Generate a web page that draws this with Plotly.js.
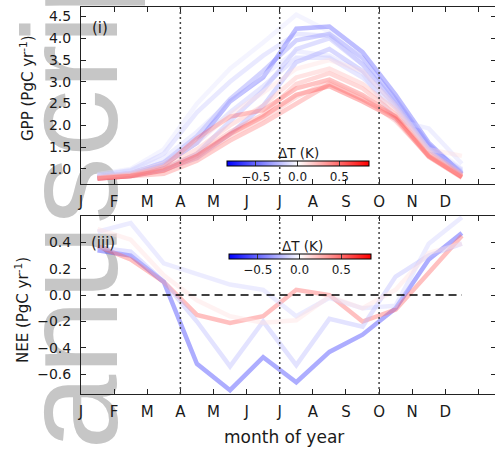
<!DOCTYPE html>
<html>
<head>
<meta charset="utf-8">
<script src="https://cdn.plot.ly/plotly-3.0.1.min.js"></script>
<style>html,body{margin:0;padding:0;overflow:hidden;background:#fff;}#chart{width:496px;height:450px;}</style>
</head>
<body>
<div id="chart"></div>
<script>
// ---- data ----
const monthLabels = ['J','F','M','A','M','J','J','A','S','O','N','D'];
const monthNumber = [1,2,3,4,5,6,7,8,9,10,11,12];
const seasonBounds = [3,6,9];

// GPP (PgC yr-1), one line per ensemble member, coloured by ΔT (K)
const gppDT = [-0.10,-0.20,-0.60,-0.40,-0.30,-0.15,-0.35,-0.22, 0.45,0.55,0.35,0.25,0.12,0.65,0.30];
const gpp01 = [0.88,1.00,1.45,2.50,3.30,3.90,4.54,4.15,3.50,2.55,1.55,1.00];
const gpp02 = [0.86,0.97,1.35,2.30,3.00,3.60,4.10,4.05,3.40,2.50,1.50,0.98];
const gpp03 = [0.80,0.88,1.10,1.60,2.55,3.10,4.22,4.27,3.68,2.70,1.60,0.88];
const gpp04 = [0.82,0.90,1.15,1.75,2.60,3.25,3.95,4.10,3.55,2.60,1.55,0.90];
const gpp05 = [0.80,0.86,1.00,1.35,2.10,2.80,3.75,4.00,3.40,2.55,1.50,0.92];
const gpp06 = [0.85,0.95,1.25,1.85,2.55,3.15,3.70,3.60,3.20,2.12,1.93,1.12];
const gpp07 = [0.78,0.84,0.98,1.25,1.80,2.45,3.45,3.75,3.25,2.45,1.45,0.88];
const gpp08 = [0.82,0.90,1.15,1.60,2.30,2.90,3.55,3.55,3.10,2.40,1.45,0.95];
const gpp09 = [0.78,0.83,0.89,1.19,1.65,2.05,2.50,2.95,2.60,2.20,1.30,0.82];
const gpp10 = [0.78,0.84,1.05,1.70,2.20,2.35,2.85,3.05,2.70,2.20,1.30,0.82];
const gpp11 = [0.80,0.86,1.00,1.35,1.85,2.25,2.95,3.20,2.85,2.25,1.35,0.85];
const gpp12 = [0.80,0.88,1.05,1.45,2.00,2.45,3.10,3.30,2.95,2.35,1.40,0.88];
const gpp13 = [0.82,0.90,1.12,1.60,2.25,2.75,3.30,3.50,3.25,2.45,1.45,1.30];
const gpp14 = [0.78,0.84,0.96,1.30,1.80,2.20,2.70,2.90,2.55,2.15,1.28,0.80];
const gpp15 = [0.79,0.85,0.98,1.25,1.75,2.15,2.65,3.00,2.65,2.10,1.30,0.84];
const gppSeries = [gpp01,gpp02,gpp03,gpp04,gpp05,gpp06,gpp07,gpp08,gpp09,gpp10,gpp11,gpp12,gpp13,gpp14,gpp15];

// NEE (PgC yr-1)
const neeDT = [-0.65, 0.50, -0.15, -0.22, 0.10];
const nee1 = [0.34,0.30,0.10,-0.52,-0.72,-0.47,-0.66,-0.43,-0.30,-0.10,0.27,0.47];
const nee2 = [0.37,0.27,0.10,-0.15,-0.21,-0.16,0.04,0.00,-0.20,-0.11,0.17,0.45];
const nee3 = [0.48,0.545,0.24,0.16,0.08,0.04,-0.16,-0.02,-0.10,-0.08,0.39,0.59];
const nee4 = [0.36,0.33,0.10,-0.20,-0.54,-0.20,-0.53,-0.18,-0.24,0.14,0.30,0.39];
const nee5 = [0.50,0.42,0.15,-0.04,-0.16,-0.21,-0.19,-0.01,-0.10,0.04,0.32,0.39];
const neeSeries = [nee1,nee2,nee3,nee4,nee5];

const dtMin = -0.85, dtMax = 0.85;
const cbTicks = [-0.5, 0.0, 0.5];

// ---- styling / helpers ----
const FONT = 'DejaVu Sans, sans-serif';
const TXT = '#1a1a1a';
const xMid = monthNumber.map(m => m - 0.5);
const bwr = [[0,'rgb(0,0,255)'],[0.5,'rgb(255,255,255)'],[1,'rgb(255,0,0)']];
function bwrColor(v){
  let t = (v - dtMin) / (dtMax - dtMin); t = Math.max(0, Math.min(1, t));
  let r,g,b;
  if (t < 0.5){ const s = t/0.5; r = Math.round(255*s); g = r; b = 255; }
  else { const s = (t-0.5)/0.5; r = 255; g = Math.round(255*(1-s)); b = g; }
  return `rgb(${r},${g},${b})`;
}
// pixel -> paper (plot area: x 81..496, y 7..394)
const L = 81, W = 415, T = 7, H = 387;
const xp = px => (px - L) / W;
const yp = py => (T + H - py) / H;

const traces = [];
gppSeries.forEach((s, i) => {
  traces.push({x: xMid, y: s, xaxis:'x', yaxis:'y', mode:'lines', type:'scatter',
    line:{color: bwrColor(gppDT[i]), width:4.5}, opacity:0.36, hoverinfo:'skip', showlegend:false});
});
neeSeries.forEach((s, i) => {
  traces.push({x: xMid, y: s, xaxis:'x2', yaxis:'y2', mode:'lines', type:'scatter',
    line:{color: bwrColor(neeDT[i]), width:4.5}, opacity:0.42, hoverinfo:'skip', showlegend:false});
});
// zero reference line in NEE panel
traces.push({x: xMid, y: xMid.map(() => 0), xaxis:'x2', yaxis:'y2', mode:'lines', type:'scatter',
  line:{color:'#000', width:1.5, dash:'8px,5px'}, hoverinfo:'skip', showlegend:false});

function cbTrace(xa, ya, vals, cx, cy){
  return {x: vals.map(() => null), y: vals.map(() => null), xaxis:xa, yaxis:ya, type:'scatter', mode:'markers',
    hoverinfo:'skip', showlegend:false,
    marker:{color: vals, colorscale: bwr, cmin: dtMin, cmax: dtMax, showscale:true,
      colorbar:{orientation:'h', lenmode:'pixels', len:142, thickness:5, thicknessmode:'pixels',
        x: cx, xanchor:'center', y: cy, yanchor:'top', xpad:0, ypad:0,
        outlinewidth:1, outlinecolor:'#000', tickvals: cbTicks, ticktext:['−0.5','0.0','0.5'],
        ticks:'inside', ticklen:5, tickcolor:'#333', tickwidth:1,
        tickfont:{family:FONT, size:12, color:TXT}, title:{text:''}}}};
}
traces.push(cbTrace('x','y', gppDT, xp(297.5), yp(161)));
traces.push(cbTrace('x2','y2', neeDT, xp(299.5), yp(254)));

const tickVals = [0,1,2,3,4,5,6,7,8,9,10,11,12];
const tickText = monthLabels.concat([' ']);
function xAxis(anchor){
  return {range:[0, 12.53], anchor: anchor, domain:[0,1], tickvals: tickVals, ticktext: tickText,
    ticks:'inside', ticklen:5, tickcolor:'#222', tickwidth:1, showline:true, linecolor:'#222', linewidth:1,
    mirror:'ticks', showgrid:false, zeroline:false, ticklabelstandoff:4,
    tickfont:{family:FONT, size:15, color:TXT}};
}
const layout = {
  width:496, height:450, margin:{l:L, r:0, t:T, b:450-T-H}, paper_bgcolor:'#fff', plot_bgcolor:'rgba(0,0,0,0)',
  showlegend:false, font:{family:FONT, color:TXT},
  xaxis: xAxis('y'),
  xaxis2: xAxis('y2'),
  yaxis: {domain:[yp(184), 1], range:[0.654, 4.717], tick0:0, dtick:0.5, tickformat:'.1f',
    ticks:'inside', ticklen:5, tickcolor:'#222', showline:true, linecolor:'#222', linewidth:1, mirror:'ticks',
    showgrid:false, zeroline:false, ticklabelstandoff:6, tickfont:{family:FONT, size:14, color:TXT}},
  yaxis2: {domain:[0, yp(215.7)], range:[-0.749, 0.6015], tickvals:[-0.6,-0.4,-0.2,0,0.2,0.4],
    ticktext:['−0.6','−0.4','−0.2','0.0','0.2','0.4'],
    ticks:'inside', ticklen:5, tickcolor:'#222', showline:true, linecolor:'#222', linewidth:1, mirror:'ticks',
    showgrid:false, zeroline:false, ticklabelstandoff:6, tickfont:{family:FONT, size:14, color:TXT}},
  shapes: [],
  annotations: []
};
// journal watermark (light grey, behind the axes)
layout.shapes.push({type:'rect', xref:'paper', yref:'paper', x0:xp(27), x1:xp(87), y0:yp(464), y1:yp(0),
  line:{width:0}, fillcolor:'rgba(0,0,0,0)', layer:'below',
  label:{text:'Manuscript', textangle:-90, textposition:'middle center',
    font:{family:'Liberation Sans, Arial, sans-serif', size:135, color:'#c6c6c6'}}});
// season dividers
seasonBounds.forEach(b => {
  ['y','y2'].forEach(ya => {
    layout.shapes.push({type:'line', xref: ya === 'y' ? 'x' : 'x2', yref: ya + ' domain', x0:b, x1:b, y0:0, y1:1,
      line:{color:'#444', width:1.5, dash:'2px,3px'}, layer:'above'});
  });
});
function ann(text, px, py, size, extra){
  return Object.assign({text:text, xref:'paper', yref:'paper', x:xp(px), y:yp(py), showarrow:false,
    xanchor:'center', yanchor:'middle', font:{family:FONT, size:size, color:TXT}}, extra||{});
}
layout.annotations.push(ann('(i)', 100, 28, 15));
layout.annotations.push(ann('(iii)', 102.5, 243, 15));
layout.annotations.push(ann('ΔT (K)', 298, 153, 13.5));
layout.annotations.push(ann('ΔT (K)', 302, 246, 13.5));
layout.annotations.push(ann('month of year', 284, 437, 17));
layout.annotations.push(ann('GPP (PgC yr<sup>-1</sup>)', 27, 88, 15, {textangle:-90}));
layout.annotations.push(ann('NEE (PgC yr<sup>-1</sup>)', 22, 310, 15, {textangle:-90}));

Plotly.newPlot('chart', traces, layout, {staticPlot:true, displayModeBar:false});
</script>
</body>
</html>
